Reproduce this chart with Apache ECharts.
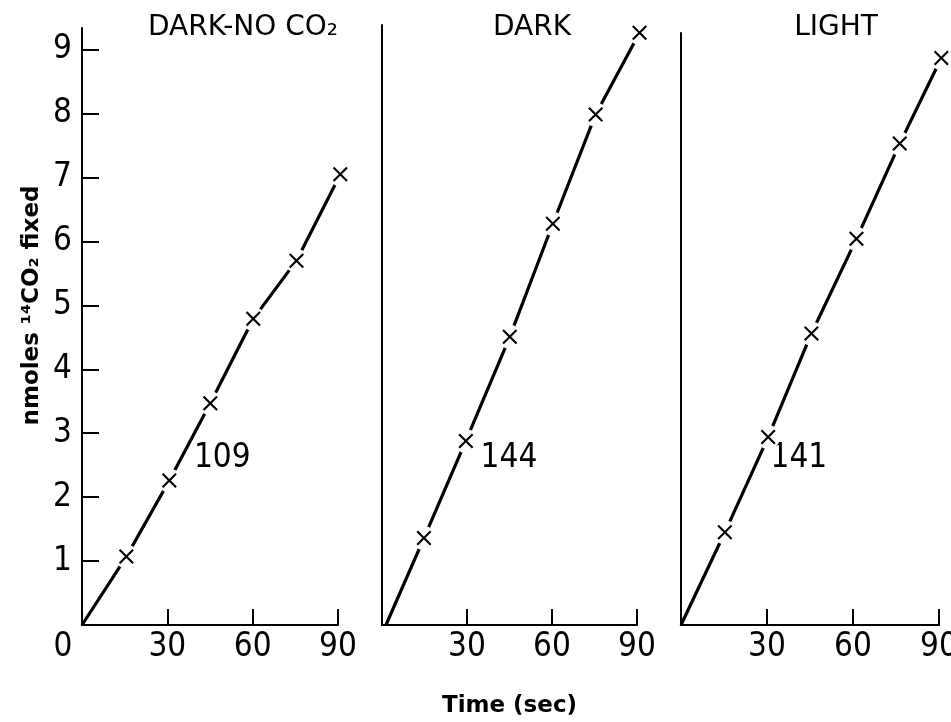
<!DOCTYPE html>
<html lang="en">
<head>
    <meta charset="UTF-8" />
    <title>14CO2 fixation vs time</title>
    <script src="https://cdn.jsdelivr.net/npm/echarts@6.0.0/dist/echarts.min.js"></script>
    <style>
        body { margin: 0; background: #fff; }
        #chart { width: 951px; height: 722px; }
    </style>
</head>
<body>
    <div id="chart"></div>
    <script>
        // values (time in sec, nmoles 14CO2 fixed)
        const timesDarkNoCO2 = [15.6, 30.7, 45.1, 60.2, 75.4, 90.8];
        const valuesDarkNoCO2 = [1.07, 2.26, 3.47, 4.79, 5.70, 7.05];
        const timesDark = [14.8, 29.6, 45.1, 60.3, 75.4, 90.9];
        const valuesDark = [1.36, 2.88, 4.51, 6.28, 7.99, 9.27];
        const timesLight = [15.3, 30.4, 45.5, 61.2, 76.3, 90.8];
        const valuesLight = [1.45, 2.94, 4.56, 6.04, 7.53, 8.87];
        // where each drawn line leaves the time axis
        const lineStartTimes = [0, 1.4, 0];

        const panelTitles = ['DARK-NO CO₂', 'DARK', 'LIGHT'];
        const rateLabels = ['109', '144', '141'];
        const xTicks = [30, 60, 90];
        const xLabelsFirst = [0, 30, 60, 90];
        const yTicks = [1, 2, 3, 4, 5, 6, 7, 8, 9];

        const numFont = '"Liberation Sans Narrow", "DejaVu Sans Condensed", "Liberation Sans", sans-serif';
        const textFont = '"DejaVu Sans", sans-serif';

        // X marker drawn as a filled polygon
        const crossPath = 'path://M0,1L1,0L5,4L9,0L10,1L6,5L10,9L9,10L5,6L1,10L0,9L4,5Z';

        const panels = [
            { times: timesDarkNoCO2, values: valuesDarkNoCO2, left: 82, width: 256, top: 28, max: 9.34, labelAt: [49.3, 2.6], titleX: 243 },
            { times: timesDark, values: valuesDark, left: 382, width: 255, top: 25, max: 9.39, labelAt: [44.8, 2.6], titleX: 532 },
            { times: timesLight, values: valuesLight, left: 681, width: 258, top: 33, max: 9.26, labelAt: [41.1, 2.6], titleX: 836 }
        ];

        function buildOption() {
            const grid = [], xAxis = [], yAxis = [], series = [], graphic = [];

            panels.forEach((p, i) => {
                const points = p.times.map((t, k) => [t, p.values[k]]);

                grid.push({
                    left: p.left, width: p.width, top: p.top, bottom: 97,
                    containLabel: false, outerBoundsMode: 'none'
                });

                xAxis.push({
                    type: 'value', gridIndex: i, min: 0, max: 90,
                    axisLine: { lineStyle: { color: '#000', width: 2 } },
                    axisTick: { inside: true, length: 16, customValues: xTicks, lineStyle: { color: '#000', width: 2 } },
                    axisLabel: {
                        customValues: i === 0 ? xLabelsFirst : xTicks,
                        showMinLabel: true, showMaxLabel: true,
                        margin: 6, color: '#000', fontSize: 33, fontFamily: numFont,
                        formatter: v => v === 0 ? '{z|0}' : String(v),
                        rich: { z: { fontSize: 33, fontFamily: numFont, color: '#000', padding: [0, 38, 0, 0] } }
                    },
                    splitLine: { show: false },
                    name: i === 1 ? 'Time (sec)' : '',
                    nameLocation: 'middle', nameGap: 70,
                    nameTextStyle: { color: '#000', fontSize: 23, fontWeight: 'bold', fontFamily: textFont }
                });

                yAxis.push({
                    type: 'value', gridIndex: i, min: 0, max: p.max,
                    axisLine: { show: true, onZero: false, lineStyle: { color: '#000', width: 2 } },
                    axisTick: { show: i === 0, inside: true, length: 17, customValues: yTicks, lineStyle: { color: '#000', width: 2 } },
                    axisLabel: {
                        show: i === 0, customValues: yTicks, margin: 10,
                        color: '#000', fontSize: 33, fontFamily: numFont
                    },
                    splitLine: { show: false },
                    name: i === 0 ? 'nmoles ¹⁴CO₂ fixed' : '',
                    nameLocation: 'middle', nameRotate: 90, nameGap: 38,
                    nameTextStyle: {
                        color: '#000', fontSize: 23, fontWeight: 'bold', fontFamily: textFont,
                        padding: [0, 0, 0, 42]
                    }
                });

                series.push({
                    type: 'line', xAxisIndex: i, yAxisIndex: i,
                    data: [[lineStartTimes[i], 0]].concat(points),
                    symbol: 'none', clip: false, z: 1, silent: true,
                    lineStyle: { color: '#000', width: 3.2 }
                });
                // white discs break the line around each marker
                series.push({
                    type: 'scatter', xAxisIndex: i, yAxisIndex: i, data: points,
                    symbol: 'circle', symbolSize: 24, clip: false, z: 5, silent: true,
                    itemStyle: { color: '#ffffff', opacity: 1, borderWidth: 0 },
                    emphasis: { disabled: true }
                });
                series.push({
                    type: 'scatter', xAxisIndex: i, yAxisIndex: i, data: points,
                    symbol: crossPath, symbolSize: 15, clip: false, z: 6, silent: true,
                    itemStyle: { color: '#000', opacity: 1 },
                    emphasis: { disabled: true },
                    markPoint: {
                        symbol: 'circle', symbolSize: 0, silent: true,
                        label: {
                            show: true, position: 'inside', formatter: rateLabels[i],
                            color: '#000', fontSize: 33, fontFamily: numFont
                        },
                        data: [{ coord: p.labelAt }]
                    }
                });

                graphic.push({
                    type: 'text', x: p.titleX, y: 28, silent: true,
                    style: {
                        text: panelTitles[i], fill: '#000', font: '28px ' + textFont,
                        textAlign: 'center', textVerticalAlign: 'middle'
                    }
                });
            });

            return {
                backgroundColor: '#fff',
                animation: false,
                grid, xAxis, yAxis, series, graphic
            };
        }

        const chart = echarts.init(document.getElementById('chart'));
        chart.setOption(buildOption());
    </script>
</body>
</html>
